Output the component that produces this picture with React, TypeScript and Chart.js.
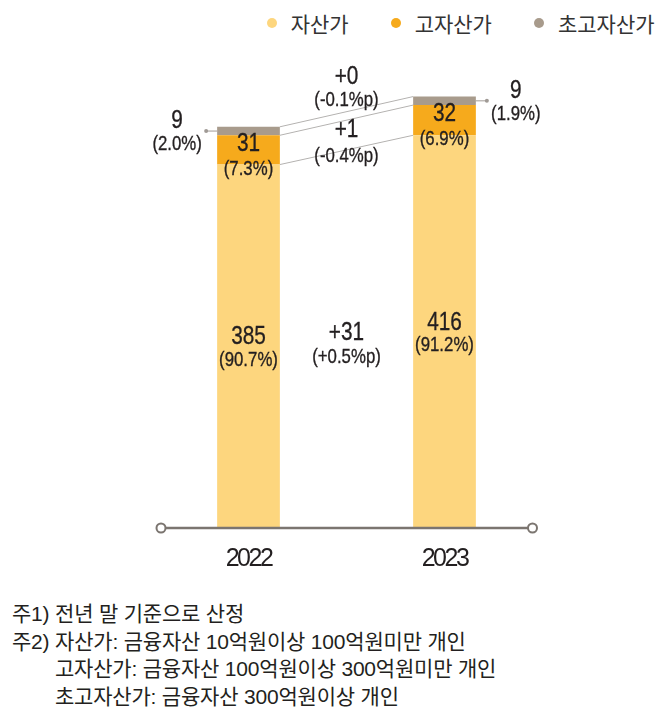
import React, { useEffect, useRef } from "react";
import { Chart, registerables } from "chart.js";

Chart.register(...registerables);

const categories = ["2022", "2023"];
const seriesNames = ["자산가", "고자산가", "초고자산가"];
const assetValues = [385, 416];
const highAssetValues = [31, 32];
const ultraValues = [9, 9];
const assetShares = ["(90.7%)", "(91.2%)"];
const highShares = ["(7.3%)", "(6.9%)"];
const ultraShares = ["(2.0%)", "(1.9%)"];
const changeValues = ["+31", "+1", "+0"];
const changeShares = ["(+0.5%p)", "(-0.4%p)", "(-0.1%p)"];
const seriesColors = ["#FDD67E", "#F6AA1C", "#A89B8C"];
const footnotes = [
  "주1) 전년 말 기준으로 산정",
  "주2) 자산가: 금융자산 10억원이상 100억원미만 개인",
  "고자산가: 금융자산 100억원이상 300억원미만 개인",
  "초고자산가: 금융자산 300억원이상 개인",
];

const SANS = '"Liberation Sans", Arial, sans-serif';
const NUM_FONT = `26px ${SANS}`;
const PCT_FONT = `21px ${SANS}`;
const TEXT = "#231f20";
const AXIS = "#7b7570";
const SQUEEZE = 0.8;

function drawText(ctx: CanvasRenderingContext2D, text: string, x: number, y: number, font: string) {
  ctx.save();
  ctx.translate(x, y);
  ctx.scale(SQUEEZE, 1);
  ctx.font = font;
  ctx.fillText(text, 0, 0);
  ctx.strokeStyle = TEXT;
  ctx.lineWidth = 0.35;
  ctx.strokeText(text, 0, 0);
  ctx.restore();
}

const spacingPlugin = {
  id: "tickSpacing",
  beforeDraw(chart: any) {
    (chart.ctx as any).letterSpacing = "-2.5px";
  },
  afterDraw(chart: any) {
    (chart.ctx as any).letterSpacing = "0px";
  },
};

const annotatePlugin = {
  id: "annotate",
  afterDatasetsDraw(chart: any) {
    const ctx = chart.ctx as CanvasRenderingContext2D;
    const metas = [0, 1, 2].map((i) => chart.getDatasetMeta(i).data as any[]);
    const yScale = chart.scales.y;
    const [asset, high, ultra] = metas;
    ctx.save();
    (ctx as any).letterSpacing = "0px";
    ctx.textAlign = "center";
    ctx.textBaseline = "middle";
    ctx.fillStyle = TEXT;

    // connector lines between the tops of the segments
    ctx.strokeStyle = "#b4b2b0";
    ctx.lineWidth = 1;
    metas.forEach((bars) => {
      const a = bars[0];
      const b = bars[1];
      ctx.beginPath();
      ctx.moveTo(a.x + a.width / 2, a.y);
      ctx.lineTo(b.x - b.width / 2, b.y);
      ctx.stroke();
    });

    asset.forEach((bar: any, i: number) => {
      const c = (bar.y + bar.base) / 2;
      drawText(ctx, String(assetValues[i]), bar.x, c - 9, NUM_FONT);
      drawText(ctx, assetShares[i], bar.x, c + 14, PCT_FONT);
    });
    high.forEach((bar: any, i: number) => {
      const c = (bar.y + bar.base) / 2;
      drawText(ctx, String(highAssetValues[i]), bar.x, c - 6, NUM_FONT);
      drawText(ctx, highShares[i], bar.x, c + 19, PCT_FONT);
    });
    ultra.forEach((bar: any, i: number) => {
      const c = (bar.y + bar.base) / 2;
      const side = i === 0 ? -1 : 1;
      const edge = bar.x + (side * bar.width) / 2;
      const dotX = edge + side * 11;
      ctx.strokeStyle = "#a09a95";
      ctx.lineWidth = 1;
      ctx.beginPath();
      ctx.moveTo(edge, c);
      ctx.lineTo(dotX, c);
      ctx.stroke();
      ctx.fillStyle = "#a09a95";
      ctx.beginPath();
      ctx.arc(dotX, c, 2, 0, Math.PI * 2);
      ctx.fill();
      ctx.fillStyle = TEXT;
      const lx = edge + side * 40;
      drawText(ctx, String(ultraValues[i]), lx, c - 10, NUM_FONT);
      drawText(ctx, ultraShares[i], lx, c + 13, PCT_FONT);
    });

    const midX = (asset[0].x + asset[1].x) / 2;
    const assetMid =
      ((asset[0].y + asset[0].base) / 2 + (asset[1].y + asset[1].base) / 2) / 2;
    drawText(ctx, changeValues[0], midX, assetMid - 6, NUM_FONT);
    drawText(ctx, changeShares[0], midX, assetMid + 18, PCT_FONT);

    const highMid = (high[0].y + high[1].y) / 2;
    drawText(ctx, changeValues[1], midX, highMid + 10, NUM_FONT);
    drawText(ctx, changeShares[1], midX, highMid + 36, PCT_FONT);

    const ultraMid = (ultra[0].y + ultra[1].y) / 2;
    drawText(ctx, changeValues[2], midX, ultraMid - 35, NUM_FONT);
    drawText(ctx, changeShares[2], midX, ultraMid - 11, PCT_FONT);

    // baseline axis with hollow end circles
    const y0 = yScale.getPixelForValue(0);
    const left = asset[0].x - 87.5;
    const right = asset[1].x + 88;
    ctx.strokeStyle = AXIS;
    ctx.lineWidth = 2.5;
    ctx.beginPath();
    ctx.moveTo(left, y0);
    ctx.lineTo(right, y0);
    ctx.stroke();
    [left, right].forEach((x) => {
      ctx.beginPath();
      ctx.arc(x, y0, 4.5, 0, Math.PI * 2);
      ctx.fillStyle = "#ffffff";
      ctx.fill();
      ctx.lineWidth = 2;
      ctx.stroke();
    });
    ctx.restore();
  },
};

export default function App() {
  const canvasRef = useRef<HTMLCanvasElement | null>(null);

  useEffect(() => {
    if (!canvasRef.current) return;
    const chart = new Chart(canvasRef.current, {
      type: "bar",
      data: {
        labels: categories,
        datasets: [
          { label: seriesNames[0], data: assetValues, backgroundColor: seriesColors[0] },
          { label: seriesNames[1], data: highAssetValues, backgroundColor: seriesColors[1] },
          { label: seriesNames[2], data: ultraValues, backgroundColor: seriesColors[2] },
        ],
      },
      options: {
        animation: false,
        responsive: true,
        maintainAspectRatio: false,
        datasets: { bar: { categoryPercentage: 1, barPercentage: 0.32 } } as any,
        layout: { padding: { left: 150.5, right: 117.5, top: 56, bottom: 0 } },
        plugins: { legend: { display: false }, tooltip: { enabled: false } },
        scales: {
          x: {
            stacked: true,
            grid: { display: false },
            border: { display: false },
            ticks: {
              color: TEXT,
              padding: 8,
              font: { family: SANS, size: 25, lineHeight: 1.2 },
            },
            afterFit: (scale: any) => {
              scale.height = 62;
            },
          },
          y: {
            stacked: true,
            display: false,
            min: 0,
            max: 500,
          },
        },
      },
      plugins: [spacingPlugin, annotatePlugin],
    });
    return () => chart.destroy();
  }, []);

  return (
    <div style={{ position: "absolute", left: 0, top: 0, width: 660, height: 716, background: "#fff" }}>
      <div
        style={{
          position: "absolute",
          left: 266.7,
          top: 12.3,
          width: 400,
          display: "flex",
          gap: 42,
          whiteSpace: "nowrap",
          fontFamily: '"Noto Sans CJK KR", sans-serif',
          fontSize: 21,
          lineHeight: "22px",
          color: "#333",
        }}
      >
        {seriesNames.map((n, i) => (
          <div key={n} style={{ display: "flex", alignItems: "center", flexShrink: 0 }}>
            <span
              style={{
                width: 10,
                height: 10,
                borderRadius: 5,
                background: seriesColors[i],
                marginRight: 14,
                display: "inline-block",
              }}
            />
            <span>{n}</span>
          </div>
        ))}
      </div>
      <div style={{ position: "absolute", left: 0, top: 0, width: 660, height: 590 }}>
        <canvas ref={canvasRef} />
      </div>
      <div
        style={{
          position: "absolute",
          left: 12,
          top: 600,
          fontFamily: '"Liberation Sans", "Noto Sans CJK KR", sans-serif',
          fontSize: 21,
          lineHeight: "27.5px",
          color: TEXT,
          letterSpacing: -0.2,
          whiteSpace: "nowrap",
        }}
      >
        {footnotes.map((t, i) => (
          <div key={i} style={{ paddingLeft: i >= 2 ? 43 : 0 }}>
            {t}
          </div>
        ))}
      </div>
    </div>
  );
}
